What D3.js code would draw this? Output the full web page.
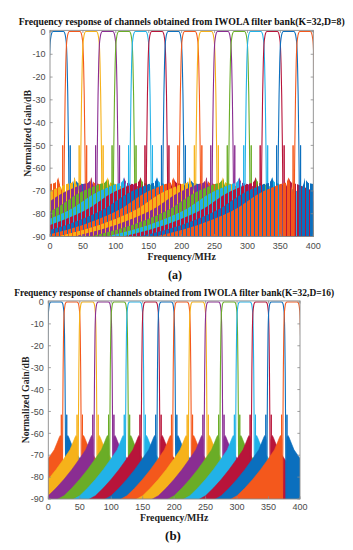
<!DOCTYPE html>
<html><head><meta charset="utf-8">
<script src="https://cdn.jsdelivr.net/npm/d3@7"></script>
<style>html,body{margin:0;padding:0;background:#fff;} svg{display:block;}</style>
</head><body>
<svg id="chart" width="353" height="550"></svg>
<script>
// ---------------- data ----------------
const channelColors = ["#0b6fbe", "#f4581c", "#f6b21a", "#8a2d92", "#6aad27", "#22b2e8", "#b8143a"];
const channelCenters = [12.5, 37.5, 62.5, 87.5, 112.5, 137.5, 162.5, 187.5, 212.5, 237.5, 262.5, 287.5, 312.5, 337.5, 362.5, 387.5]; // MHz
const xTickValues = [0, 50, 100, 150, 200, 250, 300, 350, 400];
const yTickValues = [0, -10, -20, -30, -40, -50, -60, -70, -80, -90];
const titleA = "Frequency response of channels obtained from IWOLA filter bank(K=32,D=8)";
const titleB = "Frequency response of channels obtained from IWOLA filter bank(K=32,D=16)";
const xLabelText = "Frequency/MHz";
const yLabelText = "Normalized Gain/dB";

// (a) D=8 : one channel's response (offset from channel centre in MHz, gain in dB)
const mainLobeOffsetA = [0, 8, 10, 11.5, 12.5, 13.5, 14.5, 15.3, 16, 16.5];
const mainLobeGainA   = [0, 0, -0.8, -3, -6, -14, -28, -45, -62, -90];
const sideLobeOffsetA = [16.5, 17, 18, 20, 23, 25, 27, 30, 37.5, 50, 62.5, 75, 87.5, 100, 112.5, 125, 137.5, 162.5, 187.5, 212.5, 240];
const sideLobeGainA   = [-90, -72, -71, -69, -66.5, -64, -65.5, -66.5, -67, -68.5, -70, -72, -74.5, -77, -79, -80.7, -82.2, -85, -87.2, -89, -91];
const spikeOffsetA = 18.2, spikeGainA = -50;

// (b) D=16
const mainLobeOffsetB = [0, 8, 10, 11.5, 12.5, 13.3, 14, 14.6, 15.2];
const mainLobeGainB   = [0, 0, -0.5, -2.5, -6, -15, -32, -55, -90];
const sideLobeOffsetB = [15.8, 16.2, 17, 18.5, 20, 23, 28, 37.5, 50, 62.5, 75, 87.5, 100, 112.5];
const sideLobeGainB   = [-90, -63, -61.5, -61, -61.8, -64, -67.5, -71.5, -76.5, -81, -85, -88.5, -90.5, -92];
const spikeOffsetB = 16.8, spikeGainB = -51.5;

// ---------------- drawing ----------------
const svg = d3.select("#chart");
const defs = svg.append("defs");

// dense side-lobe ripple of panel (a): each channel's fill is a comb of vertical strokes,
// shifted per channel so that earlier channels show through the gaps
channelCenters.forEach((c, k) => {
  const p = defs.append("pattern").attr("id", "ripple" + k).attr("patternUnits", "userSpaceOnUse")
    .attr("x", k % 4).attr("y", 0).attr("width", 4).attr("height", 6);
  p.append("rect").attr("x", 0).attr("y", 0).attr("width", 3).attr("height", 6)
    .attr("fill", channelColors[k % channelColors.length]);
});

function panel(cfg) {
  const x = d3.scaleLinear().domain([0, 400]).range([cfg.x0, cfg.x1]);
  const y = d3.scaleLinear().domain([-90, 0]).range([cfg.yBottom, cfg.yZero]);
  const top = y(0.5);
  const clipId = "clip" + cfg.id;
  defs.append("clipPath").attr("id", clipId).append("rect")
    .attr("x", cfg.x0).attr("y", top).attr("width", cfg.x1 - cfg.x0).attr("height", cfg.yBottom - top);
  const g = svg.append("g");
  const plot = g.append("g").attr("clip-path", `url(#${clipId})`);
  const area = d3.area().x(d => x(d[0])).y0(y(-93)).y1(d => y(d[1]));
  const line = d3.line().x(d => x(d[0])).y(d => y(d[1]));

  channelCenters.forEach((c, k) => {
    const col = channelColors[k % channelColors.length];
    const left = cfg.sideOff.map((o, i) => [c - o, cfg.sideDb[i]]).reverse();
    const right = cfg.sideOff.map((o, i) => [c + o, cfg.sideDb[i]]);
    [left, right].forEach(pts => {
      const p = plot.append("path").attr("d", area(pts));
      if (cfg.ripple) p.attr("fill", `url(#ripple${k})`);
      else p.attr("fill", col).attr("stroke", col).attr("stroke-width", 0.6).attr("stroke-linejoin", "round");
    });
    [-1, 1].forEach(s => {
      const pts = [[c + s * (cfg.spikeOff - 0.35), -90], [c + s * cfg.spikeOff, cfg.spikeDb], [c + s * (cfg.spikeOff + 0.35), -90]];
      plot.append("path").attr("d", line(pts)).attr("fill", col).attr("stroke", col).attr("stroke-width", 1);
    });
    const main = [];
    for (let i = cfg.mainOff.length - 1; i >= 0; i--) main.push([c - cfg.mainOff[i], cfg.mainDb[i]]);
    for (let i = 1; i < cfg.mainOff.length; i++) main.push([c + cfg.mainOff[i], cfg.mainDb[i]]);
    plot.append("path").attr("d", d3.line().x(d => x(d[0])).y(d => y(d[1])).curve(d3.curveMonotoneX)(main))
      .attr("fill", "none").attr("stroke", col).attr("stroke-width", 1.1);
  });

  // axes box and ticks
  const axCol = "#8a8a8a";
  g.append("rect").attr("x", cfg.x0).attr("y", top).attr("width", cfg.x1 - cfg.x0)
    .attr("height", cfg.yBottom - top).attr("fill", "none").attr("stroke", axCol).attr("stroke-width", 0.9);
  const tl = 2.6;
  xTickValues.forEach(v => {
    g.append("line").attr("x1", x(v)).attr("x2", x(v)).attr("y1", cfg.yBottom).attr("y2", cfg.yBottom - tl).attr("stroke", axCol).attr("stroke-width", 0.8);
    g.append("line").attr("x1", x(v)).attr("x2", x(v)).attr("y1", top).attr("y2", top + tl).attr("stroke", axCol).attr("stroke-width", 0.8);
    g.append("text").attr("x", x(v)).attr("y", cfg.xTickBase).attr("text-anchor", "middle")
      .attr("font-family", "Liberation Sans, Arial, sans-serif").attr("font-size", 9).attr("fill", "#4a4a4a").text(v);
  });
  yTickValues.forEach(v => {
    g.append("line").attr("x1", cfg.x0).attr("x2", cfg.x0 + tl).attr("y1", y(v)).attr("y2", y(v)).attr("stroke", axCol).attr("stroke-width", 0.8);
    g.append("line").attr("x1", cfg.x1).attr("x2", cfg.x1 - tl).attr("y1", y(v)).attr("y2", y(v)).attr("stroke", axCol).attr("stroke-width", 0.8);
    g.append("text").attr("x", cfg.x0 - 4.5).attr("y", y(v) + 3.2).attr("text-anchor", "end")
      .attr("font-family", "Liberation Sans, Arial, sans-serif").attr("font-size", 9).attr("fill", "#4a4a4a").text(v);
  });

  const cx = (cfg.x0 + cfg.x1) / 2;
  g.append("text").attr("x", cx).attr("y", cfg.titleBase).attr("text-anchor", "middle")
    .attr("font-family", "Liberation Serif, Times New Roman, serif").attr("font-weight", "bold")
    .attr("font-size", cfg.titleSize).attr("textLength", cfg.titleLen).attr("lengthAdjust", "spacingAndGlyphs")
    .attr("fill", "#111").text(cfg.title);
  g.append("text").attr("x", cx).attr("y", cfg.xLabelBase).attr("text-anchor", "middle")
    .attr("font-family", "Liberation Serif, Times New Roman, serif").attr("font-weight", "bold")
    .attr("font-size", 9.8).attr("fill", "#222").text(xLabelText);
  g.append("text").attr("transform", `translate(${cfg.yLabelX},${(top + cfg.yBottom) / 2}) rotate(-90)`)
    .attr("text-anchor", "middle")
    .attr("font-family", "Liberation Serif, Times New Roman, serif").attr("font-weight", "bold")
    .attr("font-size", 9.8).attr("fill", "#222").text(yLabelText);
  g.append("text").attr("x", cfg.tagX).attr("y", cfg.tagBase).attr("text-anchor", "middle")
    .attr("font-family", "Liberation Serif, Times New Roman, serif").attr("font-weight", "bold")
    .attr("font-size", cfg.tagSize).attr("fill", "#111").text(cfg.tag);
}

panel({ id: "a", x0: 50, x1: 313.3, yZero: 31.5, yBottom: 236.5,
  mainOff: mainLobeOffsetA, mainDb: mainLobeGainA, sideOff: sideLobeOffsetA, sideDb: sideLobeGainA,
  spikeOff: spikeOffsetA, spikeDb: spikeGainA, ripple: true,
  xTickBase: 249, xLabelBase: 260, yLabelX: 30.5, title: titleA, titleBase: 25, titleSize: 10, titleLen: 326,
  tag: "(a)", tagX: 175, tagBase: 279, tagSize: 12 });

panel({ id: "b", x0: 48.3, x1: 300, yZero: 302, yBottom: 499,
  mainOff: mainLobeOffsetB, mainDb: mainLobeGainB, sideOff: sideLobeOffsetB, sideDb: sideLobeGainB,
  spikeOff: spikeOffsetB, spikeDb: spikeGainB, ripple: false,
  xTickBase: 510, xLabelBase: 521, yLabelX: 28.5, title: titleB, titleBase: 296, titleSize: 9.6, titleLen: 320,
  tag: "(b)", tagX: 173, tagBase: 540, tagSize: 13 });
</script>
</body></html>
